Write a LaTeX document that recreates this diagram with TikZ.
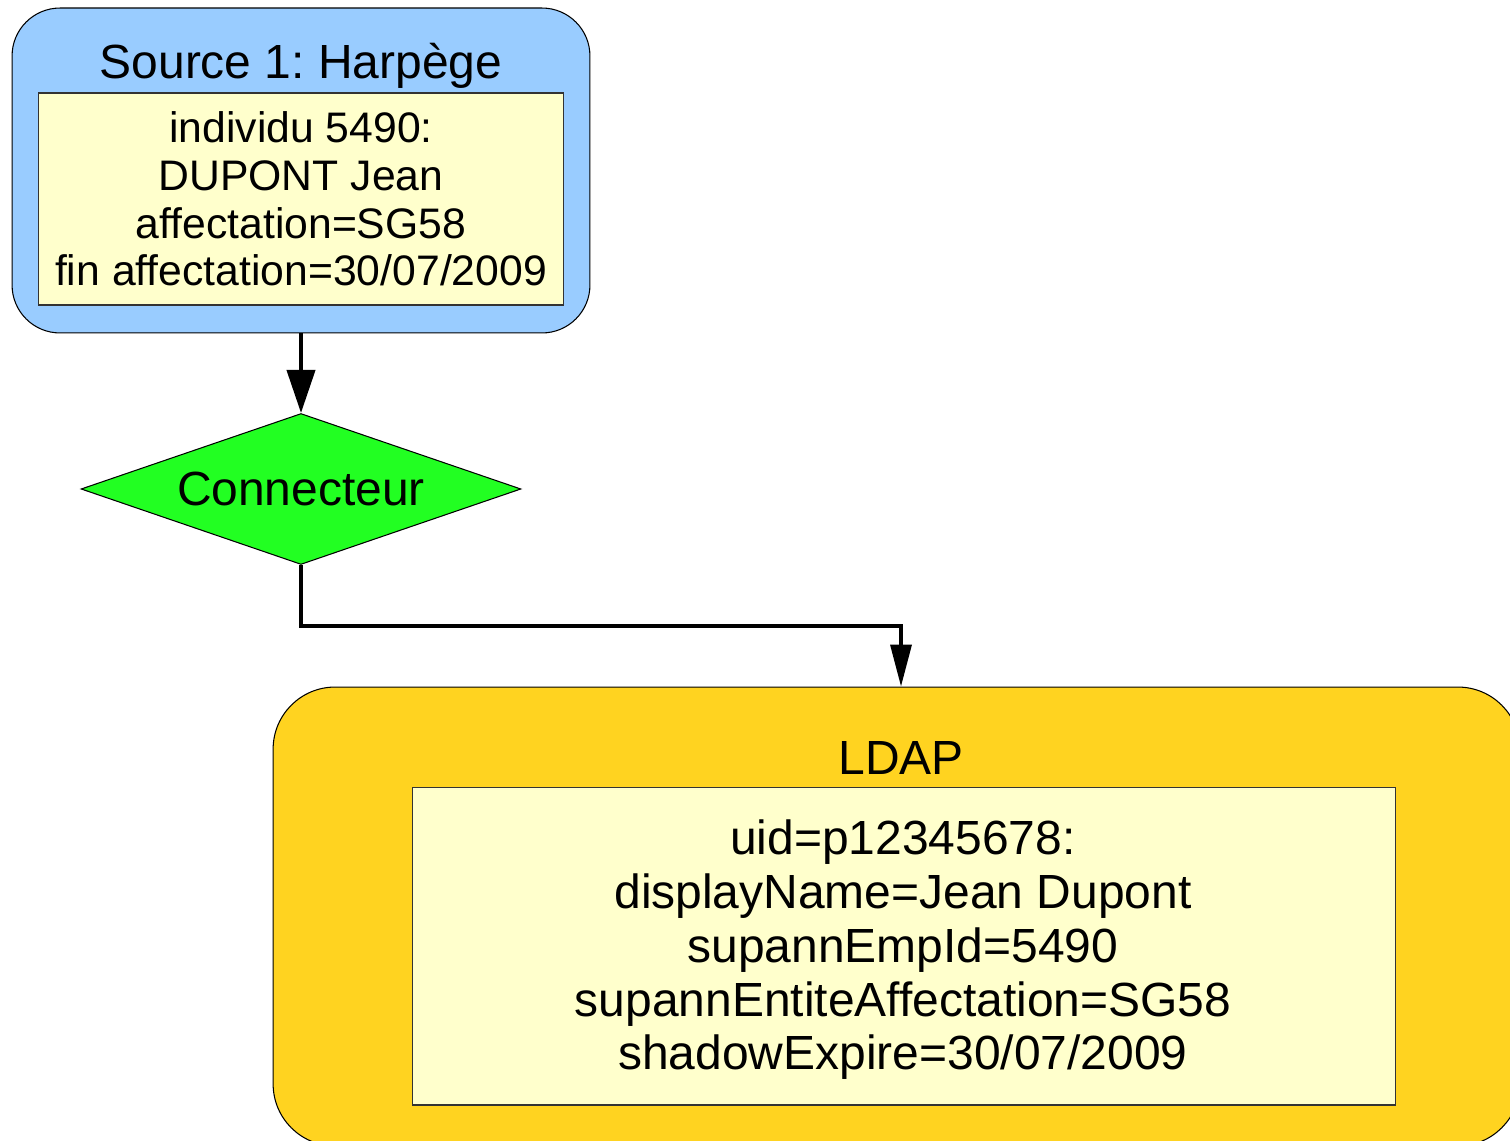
\documentclass[tikz,border=0pt]{standalone}
\usepackage{fontspec}
\setmainfont{Liberation Sans}
\frenchspacing
\usetikzlibrary{positioning,arrows.meta,shapes.geometric}
\definecolor{srcblue}{HTML}{99CCFF}
\definecolor{datayellow}{HTML}{FFFFCC}
\definecolor{ldapgold}{HTML}{FFD320}
\definecolor{conngreen}{HTML}{22FF22}
\definecolor{edgegrey}{HTML}{333333}
\tikzset{
  sk/.style={draw=black, line width=0.6pt, align=center, inner sep=0pt},
  sk src/.style={sk, rounded corners=0.96cm, fill=srcblue, minimum width=11.56cm, minimum height=6.5cm},
  sk ldap/.style={sk, rounded corners=1.24cm, fill=ldapgold, minimum width=24.94cm, minimum height=9.18cm},
  sk data/.style={sk, draw=edgegrey, fill=datayellow},
  sk conn/.style={sk, diamond, aspect=2.9, fill=conngreen, minimum width=8.8cm, minimum height=3.02cm,
                  font=\fontsize{27.3}{30}\selectfont},
  sk head/.style={anchor=base, inner sep=0pt, font=\fontsize{27.3}{30}\selectfont},
  sk arr/.style={-{Triangle[length=0.86cm, width=0.56cm]}, line width=2.3pt, black},
  sk arr thin/.style={-{Triangle[length=0.84cm, width=0.42cm]}, line width=2pt, black},
}
\begin{document}
\begin{tikzpicture}[x=0.02cm, y=-0.02cm]
  \useasboundingbox (0,0) rectangle (1510,1141);
  % source box with its record
  \node[sk src] (src) at (301,170.5) {};
  \node[sk head] (srctitle) at (301,79) {Source 1: Harpège};
  \node[sk data, minimum width=10.52cm, minimum height=4.24cm, font=\fontsize{24.3}{27.1}\selectfont] (srcdata) at (301,199)
     {individu 5490:\\DUPONT Jean\\affectation=SG58\\fin affectation=30/07/2009};
  % connector
  \node[sk conn] (conn) at (301,489) {Connecteur};
  \draw[sk arr] (src) -- (conn);
  % ldap box with the resulting entry
  \node[sk ldap] (ldap) at (896.5,916.5) {};
  \node[sk head] (ldaptitle) at (901,774) {LDAP};
  \node[sk data, minimum width=19.68cm, minimum height=6.36cm] (ldapdata) at (904,946) {};
  \node[inner sep=0pt, align=center, font=\fontsize{27.3}{30.6}\selectfont] (ldaptext) at (903,950)
     {uid=p12345678:\\displayName=Jean Dupont\\supannEmpId=5490\\supannEntiteAffectation=SG58\\shadowExpire=30/07/2009};
  \coordinate (bend) at (901,626);
  \draw[sk arr thin] (conn.south) |- (bend) -- (ldap.north -| bend);
\end{tikzpicture}
\end{document}
